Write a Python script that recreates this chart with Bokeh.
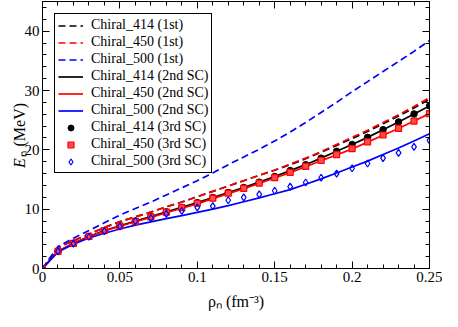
import numpy as np
from bokeh.plotting import figure
from bokeh.models import (Range1d, SingleIntervalTicker, LinearAxis, Legend, LegendItem,
                          Label, CustomJSTickFormatter)
from bokeh.embed import file_html
from bokeh.resources import INLINE

# ---------------- data ----------------
rho = [0.00, 0.01, 0.02, 0.03, 0.04, 0.05, 0.06, 0.07, 0.08, 0.09, 0.10, 0.11, 0.12,
       0.13, 0.14, 0.15, 0.16, 0.17, 0.18, 0.19, 0.20, 0.21, 0.22, 0.23, 0.24, 0.25]

# 1st order (dashed)
e414_1st = [0, 3.5, 4.7, 5.8, 6.9, 7.9, 8.7, 9.5, 10.4, 11.2, 12.1, 13.0, 13.9,
            14.8, 15.7, 16.55, 17.5, 18.5, 19.6, 20.75, 21.9, 23.1, 24.4, 25.7, 27.05, 28.5]
e450_1st = [0, 3.5, 4.7, 5.8, 6.9, 7.9, 8.7, 9.5, 10.4, 11.2, 12.1, 13.0, 13.9,
            14.8, 15.7, 16.6, 17.6, 18.6, 19.7, 20.9, 22.1, 23.3, 24.6, 25.9, 27.3, 28.8]
e500_1st = [0, 3.7, 5.1, 6.4, 7.7, 9.0, 10.1, 11.2, 12.4, 13.6, 14.8, 16.1, 17.5,
            18.8, 20.1, 21.5, 23.0, 24.6, 26.3, 28.0, 29.8, 31.5, 33.2, 34.9, 36.6, 38.4]

# 2nd SC (solid)
e414_2nd = [0, 2.9, 4.25, 5.4, 6.4, 7.2, 8.0, 8.75, 9.55, 10.3, 11.1, 11.95, 12.8,
            13.65, 14.55, 15.5, 16.5, 17.5, 18.6, 19.75, 20.9, 22.1, 23.4, 24.7, 26.05, 27.4]
e450_2nd = [0, 2.9, 4.22, 5.38, 6.33, 7.12, 7.88, 8.62, 9.4, 10.15, 10.9, 11.78, 12.62,
            13.45, 14.35, 15.25, 16.15, 17.15, 18.15, 19.15, 20.15, 21.3, 22.45, 23.6, 24.85, 26.1]
e500_2nd = [0, 2.8, 4.1, 5.15, 5.95, 6.65, 7.3, 7.85, 8.4, 8.9, 9.45, 10.0, 10.6,
            11.25, 11.9, 12.6, 13.3, 14.2, 15.1, 16.1, 17.1, 18.1, 19.2, 20.3, 21.5, 22.7]

# 3rd SC (symbols)
e414_3rd = [0, 2.9, 4.25, 5.4, 6.4, 7.2, 8.0, 8.75, 9.55, 10.3, 11.1, 11.95, 12.8,
            13.65, 14.55, 15.5, 16.5, 17.5, 18.6, 19.75, 20.9, 22.1, 23.4, 24.7, 26.05, 27.4]
e450_3rd = [0, 2.9, 4.24, 5.4, 6.37, 7.17, 7.95, 8.7, 9.5, 10.25, 11.0, 11.85, 12.7,
            13.5, 14.4, 15.3, 16.2, 17.2, 18.2, 19.2, 20.2, 21.35, 22.5, 23.6, 24.85, 26.1]
e500_3rd = [0, 2.9, 4.2, 5.35, 6.3, 7.1, 8.0, 8.5, 9.2, 9.7, 10.3, 10.5, 11.5,
            12.0, 12.5, 13.1, 13.8, 14.5, 15.3, 16.0, 16.9, 17.7, 18.6, 19.5, 20.5, 21.6]

labels = ["Chiral_414 (1st)", "Chiral_450 (1st)", "Chiral_500 (1st)",
          "Chiral_414 (2nd SC)", "Chiral_450 (2nd SC)", "Chiral_500 (2nd SC)",
          "Chiral_414 (3rd SC)", "Chiral_450 (3rd SC)", "Chiral_500 (3rd SC)"]

x_title = "ρₙ (fm⁻³)"
y_title_main = "E"
y_title_rest = "ₙ (MeV)"

x_ticks_interval = 0.05
y_ticks_interval = 10

FONT = "'Liberation Serif', 'Times New Roman', serif"

# ---------------- figure ----------------
p = figure(width=442, height=311, output_backend="svg", toolbar_location=None,
           x_range=Range1d(0, 0.25), y_range=Range1d(0, 45),
           min_border_left=42, min_border_right=13, min_border_top=1, min_border_bottom=42)
p.xgrid.visible = False
p.ygrid.visible = False
p.outline_line_color = "black"
p.outline_line_width = 1
p.outline_line_alpha = 1
p.background_fill_color = "white"
p.border_fill_color = "white"

fmt = CustomJSTickFormatter(code="return String(Math.round(tick*100)/100);")
blank = CustomJSTickFormatter(code="return '';")

def style_axis(ax, show_labels=True):
    ax.major_tick_in = 7
    ax.major_tick_out = 0
    ax.minor_tick_in = 4
    ax.minor_tick_out = 0
    ax.axis_line_color = "black"
    ax.major_tick_line_color = "black"
    ax.minor_tick_line_color = "black"
    ax.major_label_text_font = FONT
    ax.major_label_text_color = "black"
    if show_labels:
        ax.major_label_text_font_size = "15px"
        ax.major_label_standoff = 3
    else:
        ax.formatter = blank
        ax.major_label_text_font_size = "1px"
        ax.major_label_standoff = 0

p.xaxis.ticker = SingleIntervalTicker(interval=x_ticks_interval, num_minor_ticks=5)
p.xaxis.formatter = fmt
p.yaxis.ticker = SingleIntervalTicker(interval=y_ticks_interval, num_minor_ticks=5)
for ax in p.xaxis + p.yaxis:
    style_axis(ax)

top = LinearAxis(ticker=SingleIntervalTicker(interval=x_ticks_interval, num_minor_ticks=5))
style_axis(top, show_labels=False)
p.add_layout(top, "above")
right = LinearAxis(ticker=SingleIntervalTicker(interval=y_ticks_interval, num_minor_ticks=5))
style_axis(right, show_labels=False)
p.add_layout(right, "right")

# ---------------- glyphs ----------------
DASH = "7 4"
LW = 1.7
r1 = p.line(rho, e414_1st, line_color="black", line_dash=DASH, line_width=LW)
r2 = p.line(rho, e450_1st, line_color="red", line_dash=DASH, line_width=LW)
r3 = p.line(rho, e500_1st, line_color="blue", line_dash=DASH, line_width=LW)
r4 = p.line(rho, e414_2nd, line_color="black", line_width=LW)
r5 = p.line(rho, e450_2nd, line_color="red", line_width=LW)
r6 = p.line(rho, e500_2nd, line_color="blue", line_width=LW)
r7 = p.scatter(rho, e414_3rd, marker="circle", size=6.5, fill_color="black", line_color="black")
r8 = p.scatter(rho, e450_3rd, marker="square", size=6, fill_color="#ff4d4d", line_color="red",
               line_width=1.2)
r9 = p.scatter(rho, e500_3rd, marker="diamond", size=7, fill_color=None, line_color="blue",
               line_width=1.2)

legend = Legend(items=[LegendItem(label=l, renderers=[r]) for l, r in
                       zip(labels, [r1, r2, r3, r4, r5, r6, r7, r8, r9])],
                location="top_left", margin=12, padding=3, spacing=1,
                label_height=15, glyph_height=15, glyph_width=25, label_standoff=8,
                border_line_color="black", border_line_width=1, border_line_alpha=1,
                background_fill_color="white", background_fill_alpha=1,
                label_text_font=FONT, label_text_font_size="14px", label_text_color="black")
p.add_layout(legend)

# ---------------- axis titles ----------------
ymid = 22.5
ystart = -33
xl = -23
# rotated italic "E" (kept in the bottom panel, where it needs little room)
p.add_layout(Label(x=0, y=ymid, x_offset=xl, y_offset=ystart, angle=np.pi / 2,
                   text=y_title_main, text_font=FONT, text_font_style="italic",
                   text_font_size="16px", text_align="left", text_baseline="alphabetic",
                   text_color="black"), "below")
p.add_layout(Label(x=0, y=ymid, x_offset=xl, y_offset=ystart + 11.5, angle=np.pi / 2,
                   text=y_title_rest, text_font=FONT, text_font_size="16px",
                   text_align="left", text_baseline="alphabetic", text_color="black"), "left")

p.add_layout(Label(x=0.125, y=0, x_offset=0, y_offset=-33, text=x_title,
                   text_font=FONT, text_font_size="16px", text_align="center",
                   text_baseline="alphabetic", text_color="black"), "below")

open("out.html", "w").write(file_html(p, INLINE))
